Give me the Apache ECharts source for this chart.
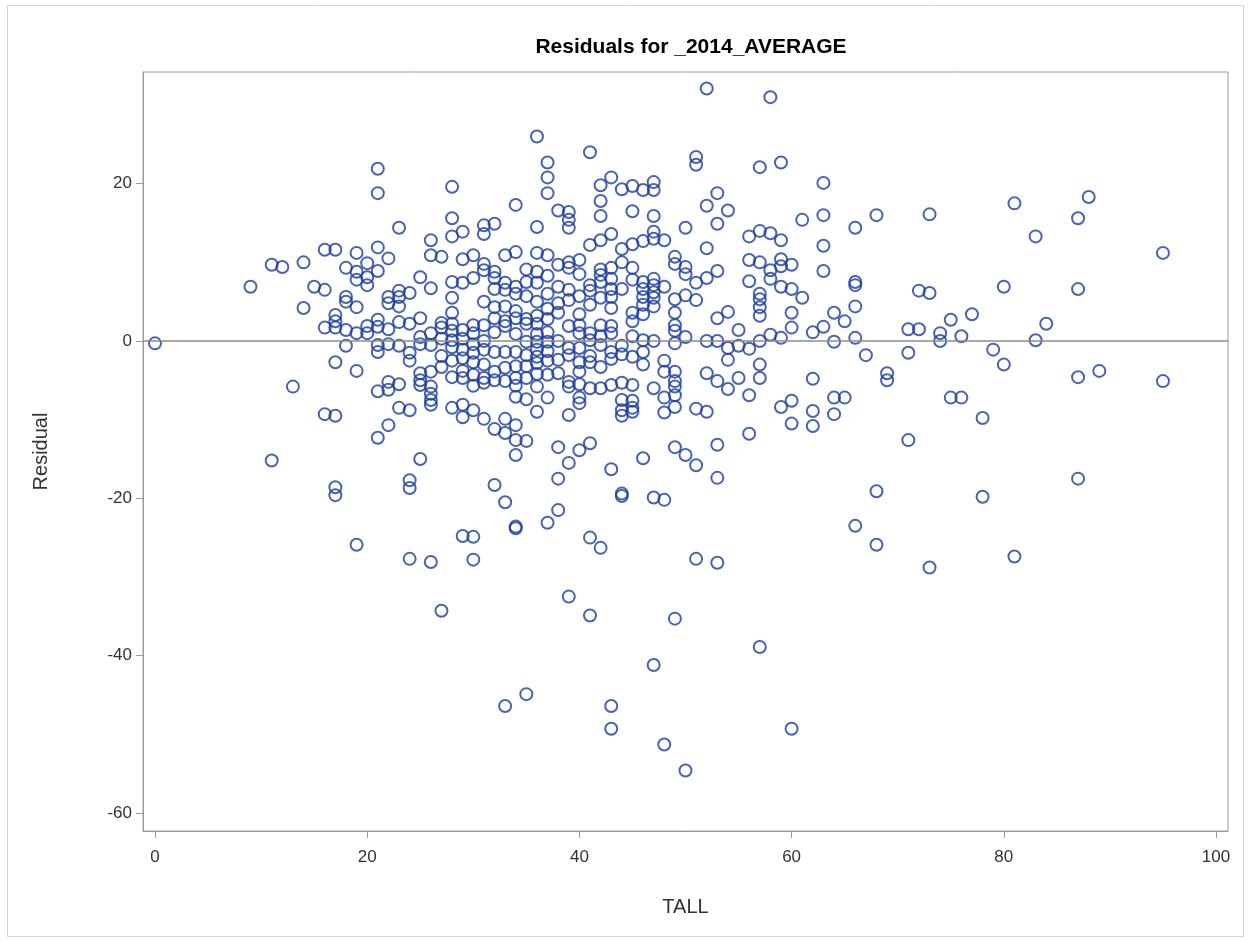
<!DOCTYPE html>
<html>
<head>
<meta charset="utf-8">
<script src="https://cdn.jsdelivr.net/npm/echarts@6/dist/echarts.min.js"></script>
<style>
html,body{margin:0;padding:0;background:#fff;}
#chart{width:1251px;height:942px;}
</style>
</head>
<body>
<div id="chart"></div>
<script>
// TALL values (x) and the residuals observed at each TALL value
const tallValues = [0,9,11,12,13,14,15,16,17,18,19,20,21,22,23,24,25,26,27,28,29,30,31,32,33,34,35,36,37,38,39,40,41,42,43,44,45,46,47,48,49,50,51,52,53,54,55,56,57,58,59,60,61,62,63,64,65,66,67,68,69,71,72,73,74,75,76,77,78,79,80,81,83,84,87,88,89,95];
const residualsByTall = [
  [-0.3],
  [6.9],
  [9.7,-15.2],
  [9.4],
  [-5.8],
  [10.0,4.2],
  [6.9],
  [11.6,6.5,1.7,-9.3],
  [11.6,3.3,2.5,1.7,-2.7,-9.5,-18.6,-19.6],
  [9.3,5.6,5.0,1.4,-0.6],
  [11.2,8.8,7.8,4.3,1.0,-3.8,-25.9],
  [9.9,8.1,7.1,1.9,1.0],
  [21.9,18.8,11.9,8.9,2.7,1.8,-0.5,-1.4,-6.4,-12.3],
  [10.5,5.6,4.8,1.5,-0.4,-5.2,-6.2,-10.7],
  [14.4,6.4,5.6,4.4,2.4,-0.6,-5.5,-8.5],
  [6.1,2.2,-1.5,-2.5,-8.8,-17.7,-18.7,-27.7],
  [8.1,2.9,0.5,-0.4,-4.1,-5.0,-5.6,-15.0],
  [12.8,10.9,6.7,1.0,-0.5,-3.9,-5.8,-6.7,-7.5,-8.1,-28.1],
  [10.7,2.3,1.7,0.3,-1.9,-3.3,-34.3],
  [19.6,15.6,13.3,7.5,5.5,3.6,2.2,1.3,0.1,-0.8,-2.5,-4.6,-8.5],
  [13.9,10.4,7.4,1.4,0.3,-1.1,-2.2,-3.8,-4.7,-8.1,-9.7,-24.8],
  [10.9,8.0,2.0,1.0,-0.4,-1.5,-2.7,-4.3,-5.7,-8.8,-24.9,-27.8],
  [14.7,13.6,9.8,9.0,5.0,2.0,0.0,-1.1,-3.0,-4.7,-5.3,-9.9],
  [14.9,8.8,8.0,6.6,4.3,2.9,1.1,-1.4,-3.9,-5.0,-11.2,-18.3],
  [10.9,7.4,6.5,4.4,2.5,1.9,-1.4,-3.4,-5.1,-9.9,-11.7,-20.5,-46.4],
  [17.3,11.3,6.9,6.0,3.8,2.9,0.9,-1.4,-3.2,-4.7,-5.7,-7.1,-10.7,-12.6,-14.5,-23.6,-23.8],
  [9.1,7.5,5.7,2.8,2.2,-0.1,-1.8,-3.2,-4.7,-7.4,-12.7,-44.9],
  [26.0,14.5,11.2,8.8,7.4,5.0,3.2,2.2,0.9,-0.1,-1.1,-2.0,-2.8,-4.2,-5.8,-9.0],
  [22.7,20.8,18.8,10.9,8.3,6.0,4.1,2.8,1.1,-0.1,-1.3,-2.5,-4.3,-7.2,-23.1],
  [16.6,9.7,6.9,4.8,3.6,0.0,-2.4,-4.1,-13.5,-17.5,-21.5],
  [16.4,15.4,14.4,10.0,9.3,6.5,5.2,1.9,-0.9,-1.8,-5.2,-5.8,-9.4,-15.5,-32.5],
  [10.3,8.5,5.7,3.4,2.0,1.0,-0.9,-2.7,-3.9,-5.5,-7.2,-7.9,-13.9],
  [24.0,12.2,7.1,6.4,4.6,1.0,0.1,-1.9,-2.7,-6.0,-13.0,-25.0,-34.9],
  [19.8,17.8,15.9,12.8,9.1,8.4,7.5,5.5,2.0,0.6,-0.5,-3.3,-6.0,-26.3],
  [20.8,13.6,9.3,7.9,6.6,5.6,4.2,1.9,1.0,-1.4,-2.3,-5.6,-16.3,-46.4,-49.3],
  [19.3,11.7,10.0,6.6,-0.6,-1.7,-5.3,-7.5,-8.8,-9.5,-19.4,-19.7],
  [19.7,16.5,12.3,9.3,7.8,3.6,2.5,0.6,-2.0,-5.6,-7.6,-8.5,-9.0],
  [19.2,12.7,7.5,6.6,5.6,4.6,3.4,0.1,-1.4,-3.0,-14.9],
  [20.2,19.2,15.9,13.9,13.0,7.9,7.1,6.2,5.5,4.4,0.0,-6.0,-19.9,-41.2],
  [12.8,6.9,-2.5,-3.9,-7.2,-9.1,-20.2,-51.3],
  [10.7,9.8,5.3,3.6,2.0,1.3,-0.3,-3.9,-5.1,-5.8,-6.9,-8.4,-13.5,-35.3],
  [14.4,9.4,8.5,5.8,0.5,-14.5,-54.6],
  [23.4,22.4,7.4,5.2,-8.6,-15.8,-27.7],
  [32.1,17.2,11.8,8.0,0.0,-4.1,-9.0],
  [18.8,14.9,8.9,2.9,0.0,-5.1,-13.2,-17.4,-28.2],
  [16.6,3.7,-0.9,-2.4,-6.1],
  [1.4,-0.6,-4.7],
  [13.3,10.3,7.6,-1.0,-6.9,-11.8],
  [22.1,14.0,10.0,6.0,5.3,4.3,3.2,0.0,-3.0,-4.7,-38.9],
  [31.0,13.7,9.0,7.9,0.8],
  [22.7,12.8,10.4,9.5,6.9,0.4,-8.4],
  [9.7,6.6,3.6,1.7,-7.6,-10.5,-49.3],
  [15.4,5.5],
  [1.1,-4.8,-8.9,-10.8],
  [20.1,16.0,12.1,8.9,1.8],
  [3.6,-0.1,-7.2,-9.3],
  [2.5,-7.2],
  [14.4,7.5,7.1,4.4,0.4,-23.5],
  [-1.8],
  [16.0,-19.1,-25.9],
  [-4.1,-5.0],
  [1.5,-1.5,-12.6],
  [6.4,1.5],
  [16.1,6.1,-28.8],
  [1.0,0.0],
  [2.7,-7.2],
  [0.6,-7.2],
  [3.4],
  [-9.8,-19.8],
  [-1.1],
  [6.9,-3.0],
  [17.5,-27.4],
  [13.3,0.1],
  [2.2],
  [15.6,6.6,-4.6,-17.5],
  [18.3],
  [-3.8],
  [11.2,-5.1]
];
const xTickValues = [0,20,40,60,80,100];
const yTickValues = [-60,-40,-20,0,20];

const points = [];
tallValues.forEach((t, i) => {
  residualsByTall[i].forEach(r => points.push([t, r]));
});

const chart = echarts.init(document.getElementById('chart'), null, {renderer: 'canvas'});
const axisGray = '#9a9a9a';
const textColor = '#333333';
const font = '"Liberation Sans", Arial, sans-serif';

chart.setOption({
  backgroundColor: '#ffffff',
  animation: false,
  title: {
    text: 'Residuals for _2014_AVERAGE',
    left: 686,
    top: 32,
    textAlign: 'center',
    textStyle: {fontFamily: font, fontSize: 21, fontWeight: 'bold', color: '#000'}
  },
  grid: {
    left: 143, right: 23, top: 72, bottom: 111,
    show: true, borderColor: axisGray, borderWidth: 1, backgroundColor: '#fff'
  },
  xAxis: {
    type: 'value',
    min: -1.13, max: 101.13,
    name: 'TALL',
    nameLocation: 'middle',
    nameGap: 66,
    nameTextStyle: {fontFamily: font, fontSize: 20, color: textColor},
    axisLine: {show: true, onZero: false, lineStyle: {color: axisGray, width: 1}},
    axisTick: {show: true, length: 7, customValues: xTickValues, lineStyle: {color: axisGray}},
    axisLabel: {customValues: xTickValues, fontFamily: font, fontSize: 17, color: textColor, margin: 18},
    splitLine: {show: false}
  },
  yAxis: {
    type: 'value',
    min: -62.3, max: 34.2,
    name: 'Residual',
    nameLocation: 'middle',
    nameGap: 92,
    nameRotate: 90,
    nameTextStyle: {fontFamily: font, fontSize: 20, color: textColor},
    axisLine: {show: true, onZero: false, lineStyle: {color: axisGray, width: 1}},
    axisTick: {show: true, length: 7, customValues: yTickValues, lineStyle: {color: axisGray}},
    axisLabel: {customValues: yTickValues, fontFamily: font, fontSize: 17, color: textColor, margin: 11},
    splitLine: {show: false}
  },
  graphic: [{
    type: 'rect',
    shape: {x: 7.5, y: 5.5, width: 1236, height: 931},
    style: {fill: 'none', stroke: '#d4d4d4', lineWidth: 1},
    silent: true
  }],
  series: [{
    type: 'scatter',
    data: points,
    symbol: 'circle',
    symbolSize: 12,
    itemStyle: {color: 'rgba(255,255,255,0)', borderColor: '#1a3d9c', borderWidth: 2},
    markLine: {
      silent: true,
      symbol: 'none',
      label: {show: false},
      lineStyle: {color: '#8c8c8c', width: 1.5, type: 'solid'},
      data: [{yAxis: 0}]
    },
    z: 3
  }]
});
</script>
</body>
</html>
